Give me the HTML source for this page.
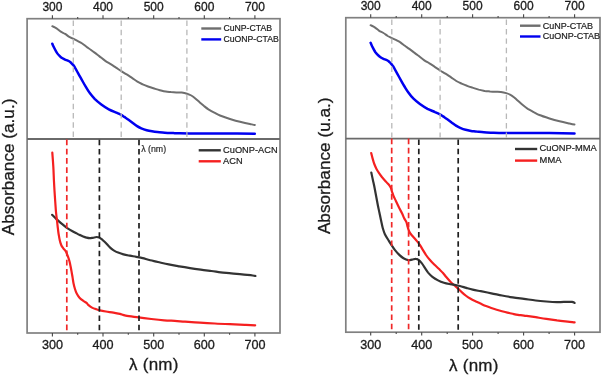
<!DOCTYPE html>
<html><head><meta charset="utf-8"><style>
html,body{margin:0;padding:0;background:#fff;width:602px;height:375px;overflow:hidden}
svg{display:block;will-change:transform}
text{font-family:"Liberation Sans",sans-serif;fill:#1a1a1a;stroke:#1a1a1a;stroke-width:0.3px}
.tl{text-anchor:middle}
.tt{font-size:12px}
.tb{font-size:12.6px}
.lg{font-size:8.5px;fill:#222;stroke:#222;stroke-width:0.2px}
.ax{font-size:17.2px}
.lam{font-size:17px;letter-spacing:0.25px}
</style></head><body>
<svg width="602" height="375" viewBox="0 0 602 375">
<rect x="27.1" y="18.7" width="252.9" height="314.3" fill="none" stroke="#808080" stroke-width="1.7"/>
<line x1="27.1" y1="139" x2="280" y2="139" stroke="#6a6a6a" stroke-width="1.8"/>
<line x1="52.4" y1="18.7" x2="52.4" y2="15.299999999999999" stroke="#444" stroke-width="1.1"/>
<line x1="52.4" y1="333" x2="52.4" y2="336.4" stroke="#444" stroke-width="1.1"/>
<text x="52.4" y="10.9" class="tl tt">300</text>
<text x="52.4" y="348.9" class="tl tb">300</text>
<line x1="77.7" y1="18.7" x2="77.7" y2="16.9" stroke="#444" stroke-width="1.1"/>
<line x1="77.7" y1="333" x2="77.7" y2="334.8" stroke="#444" stroke-width="1.1"/>
<line x1="103.0" y1="18.7" x2="103.0" y2="15.299999999999999" stroke="#444" stroke-width="1.1"/>
<line x1="103.0" y1="333" x2="103.0" y2="336.4" stroke="#444" stroke-width="1.1"/>
<text x="103.0" y="10.9" class="tl tt">400</text>
<text x="103.0" y="348.9" class="tl tb">400</text>
<line x1="128.3" y1="18.7" x2="128.3" y2="16.9" stroke="#444" stroke-width="1.1"/>
<line x1="128.3" y1="333" x2="128.3" y2="334.8" stroke="#444" stroke-width="1.1"/>
<line x1="153.7" y1="18.7" x2="153.7" y2="15.299999999999999" stroke="#444" stroke-width="1.1"/>
<line x1="153.7" y1="333" x2="153.7" y2="336.4" stroke="#444" stroke-width="1.1"/>
<text x="153.7" y="10.9" class="tl tt">500</text>
<text x="153.7" y="348.9" class="tl tb">500</text>
<line x1="179.0" y1="18.7" x2="179.0" y2="16.9" stroke="#444" stroke-width="1.1"/>
<line x1="179.0" y1="333" x2="179.0" y2="334.8" stroke="#444" stroke-width="1.1"/>
<line x1="204.3" y1="18.7" x2="204.3" y2="15.299999999999999" stroke="#444" stroke-width="1.1"/>
<line x1="204.3" y1="333" x2="204.3" y2="336.4" stroke="#444" stroke-width="1.1"/>
<text x="204.3" y="10.9" class="tl tt">600</text>
<text x="204.3" y="348.9" class="tl tb">600</text>
<line x1="229.6" y1="18.7" x2="229.6" y2="16.9" stroke="#444" stroke-width="1.1"/>
<line x1="229.6" y1="333" x2="229.6" y2="334.8" stroke="#444" stroke-width="1.1"/>
<line x1="254.9" y1="18.7" x2="254.9" y2="15.299999999999999" stroke="#444" stroke-width="1.1"/>
<line x1="254.9" y1="333" x2="254.9" y2="336.4" stroke="#444" stroke-width="1.1"/>
<text x="254.9" y="10.9" class="tl tt">700</text>
<text x="254.9" y="348.9" class="tl tb">700</text>
<rect x="345.8" y="17.7" width="254.2" height="314.5" fill="none" stroke="#808080" stroke-width="1.7"/>
<line x1="345.8" y1="138.6" x2="600" y2="138.6" stroke="#6a6a6a" stroke-width="1.8"/>
<line x1="370.7" y1="17.7" x2="370.7" y2="14.299999999999999" stroke="#444" stroke-width="1.1"/>
<line x1="370.7" y1="332.2" x2="370.7" y2="335.59999999999997" stroke="#444" stroke-width="1.1"/>
<text x="370.7" y="10.1" class="tl tt">300</text>
<text x="370.7" y="348.6" class="tl tb">300</text>
<line x1="396.2" y1="17.7" x2="396.2" y2="15.899999999999999" stroke="#444" stroke-width="1.1"/>
<line x1="396.2" y1="332.2" x2="396.2" y2="334.0" stroke="#444" stroke-width="1.1"/>
<line x1="421.7" y1="17.7" x2="421.7" y2="14.299999999999999" stroke="#444" stroke-width="1.1"/>
<line x1="421.7" y1="332.2" x2="421.7" y2="335.59999999999997" stroke="#444" stroke-width="1.1"/>
<text x="421.7" y="10.1" class="tl tt">400</text>
<text x="421.7" y="348.6" class="tl tb">400</text>
<line x1="447.2" y1="17.7" x2="447.2" y2="15.899999999999999" stroke="#444" stroke-width="1.1"/>
<line x1="447.2" y1="332.2" x2="447.2" y2="334.0" stroke="#444" stroke-width="1.1"/>
<line x1="472.6" y1="17.7" x2="472.6" y2="14.299999999999999" stroke="#444" stroke-width="1.1"/>
<line x1="472.6" y1="332.2" x2="472.6" y2="335.59999999999997" stroke="#444" stroke-width="1.1"/>
<text x="472.6" y="10.1" class="tl tt">500</text>
<text x="472.6" y="348.6" class="tl tb">500</text>
<line x1="498.1" y1="17.7" x2="498.1" y2="15.899999999999999" stroke="#444" stroke-width="1.1"/>
<line x1="498.1" y1="332.2" x2="498.1" y2="334.0" stroke="#444" stroke-width="1.1"/>
<line x1="523.6" y1="17.7" x2="523.6" y2="14.299999999999999" stroke="#444" stroke-width="1.1"/>
<line x1="523.6" y1="332.2" x2="523.6" y2="335.59999999999997" stroke="#444" stroke-width="1.1"/>
<text x="523.6" y="10.1" class="tl tt">600</text>
<text x="523.6" y="348.6" class="tl tb">600</text>
<line x1="549.1" y1="17.7" x2="549.1" y2="15.899999999999999" stroke="#444" stroke-width="1.1"/>
<line x1="549.1" y1="332.2" x2="549.1" y2="334.0" stroke="#444" stroke-width="1.1"/>
<line x1="574.6" y1="17.7" x2="574.6" y2="14.299999999999999" stroke="#444" stroke-width="1.1"/>
<line x1="574.6" y1="332.2" x2="574.6" y2="335.59999999999997" stroke="#444" stroke-width="1.1"/>
<text x="574.6" y="10.1" class="tl tt">700</text>
<text x="574.6" y="348.6" class="tl tb">700</text>
<path d="M52.3,26.2 C53.0,26.6 55.1,27.4 56.5,28.3 C57.9,29.2 59.4,30.8 60.8,31.7 C62.2,32.6 63.7,33.0 65.1,33.9 C66.5,34.8 68.0,36.1 69.3,36.9 C70.6,37.7 71.7,38.0 73.1,38.7 C74.5,39.4 76.4,40.3 77.9,41.1 C79.4,41.9 80.8,42.6 82.2,43.5 C83.6,44.4 85.0,45.7 86.4,46.7 C87.8,47.7 89.3,48.7 90.7,49.7 C92.1,50.7 93.6,51.8 95.0,52.9 C96.4,54.0 97.5,54.8 99.2,56.1 C100.9,57.4 103.4,59.6 105.3,60.9 C107.2,62.2 108.9,63.0 110.7,64.1 C112.5,65.2 114.2,66.4 116.0,67.6 C117.8,68.8 119.5,70.1 121.3,71.2 C123.1,72.3 124.9,73.3 126.7,74.4 C128.5,75.5 130.2,76.7 132.0,77.9 C133.8,79.1 135.6,80.6 137.4,81.7 C139.2,82.8 140.9,83.5 142.7,84.3 C144.5,85.1 146.2,85.8 148.0,86.5 C149.8,87.2 151.4,87.7 153.4,88.3 C155.4,88.9 157.8,89.7 159.8,90.2 C161.9,90.7 163.8,91.2 165.7,91.5 C167.6,91.8 169.2,91.9 171.0,92.1 C172.8,92.2 174.5,92.3 176.3,92.4 C178.1,92.5 179.9,92.4 181.7,92.6 C183.5,92.8 185.4,93.2 187.0,93.7 C188.6,94.2 189.9,94.7 191.3,95.5 C192.7,96.3 194.2,97.5 195.6,98.7 C197.0,99.9 198.4,101.2 199.8,102.4 C201.2,103.6 202.7,104.9 204.1,106.1 C205.5,107.2 206.6,108.2 208.4,109.3 C210.2,110.4 212.9,111.9 214.8,112.9 C216.7,113.9 217.5,114.5 220.0,115.5 C222.5,116.5 226.7,118.0 230.0,119.0 C233.3,120.0 236.7,121.0 240.0,121.8 C243.3,122.6 247.4,123.5 249.9,124.0 C252.4,124.5 254.0,124.8 254.8,125.0" fill="none" stroke="#6e6e6e" stroke-width="2.0" stroke-linecap="round" stroke-linejoin="round"/>
<path d="M52.3,43.7 C52.6,44.5 53.6,46.7 54.4,48.3 C55.2,49.9 56.2,51.8 57.1,53.1 C58.0,54.4 59.1,55.4 60.0,56.3 C60.9,57.2 61.7,57.8 62.5,58.3 C63.3,58.8 64.1,59.2 65.0,59.6 C65.9,60.0 66.9,60.3 67.8,60.7 C68.7,61.1 69.5,61.5 70.2,62.0 C70.9,62.5 71.5,63.2 72.1,63.9 C72.7,64.6 73.5,65.3 74.0,66.0 C74.5,66.7 74.6,66.9 75.3,68.1 C76.0,69.2 77.0,71.3 77.9,72.9 C78.8,74.5 79.7,76.1 80.6,77.7 C81.5,79.3 82.4,80.9 83.3,82.5 C84.2,84.1 85.0,85.5 86.0,87.2 C87.0,88.9 88.1,90.8 89.6,92.8 C91.1,94.8 93.0,97.2 94.9,99.2 C96.9,101.2 99.0,102.8 101.3,104.5 C103.6,106.2 106.3,108.0 108.8,109.3 C111.3,110.6 114.2,111.7 116.3,112.6 C118.3,113.5 119.8,114.1 121.1,114.8 C122.4,115.5 123.1,116.1 124.3,116.9 C125.5,117.7 127.1,118.7 128.5,119.7 C129.9,120.7 131.4,121.8 132.8,122.9 C134.2,124.0 135.7,125.2 137.1,126.1 C138.5,127.0 139.7,127.6 141.3,128.3 C142.9,129.0 144.9,129.7 146.7,130.2 C148.5,130.7 150.2,131.0 152.0,131.3 C153.8,131.6 155.3,131.8 157.4,132.0 C159.5,132.2 162.1,132.5 164.8,132.7 C167.5,132.9 170.9,133.0 173.4,133.1 C175.9,133.2 175.4,133.2 179.8,133.3 C184.2,133.4 191.6,133.5 200.0,133.5 C208.4,133.5 220.9,133.4 230.0,133.5 C239.1,133.6 250.7,133.8 254.8,133.8" fill="none" stroke="#0000f0" stroke-width="2.5" stroke-linecap="round" stroke-linejoin="round"/>
<path d="M52.1,214.8 C52.8,215.5 54.9,217.6 56.5,219.1 C58.1,220.6 60.1,222.4 61.9,223.9 C63.7,225.4 65.4,226.9 67.2,228.1 C69.0,229.3 70.7,230.3 72.5,231.3 C74.3,232.3 76.6,233.4 77.9,234.1 C79.2,234.8 79.6,234.8 80.5,235.2 C81.4,235.6 82.2,236.1 83.2,236.5 C84.2,236.9 85.3,237.3 86.4,237.6 C87.5,237.9 88.5,238.2 89.6,238.2 C90.7,238.2 91.6,238.0 92.8,237.8 C94.0,237.6 95.6,237.0 96.7,237.0 C97.8,237.0 98.2,237.1 99.2,237.6 C100.2,238.1 101.3,239.0 102.4,239.8 C103.5,240.7 104.5,241.6 105.6,242.7 C106.7,243.8 107.8,245.2 108.8,246.2 C109.8,247.2 110.6,248.1 111.6,248.9 C112.5,249.7 113.4,250.3 114.5,250.9 C115.6,251.5 116.6,252.0 118.1,252.6 C119.6,253.2 121.5,253.9 123.5,254.4 C125.5,254.9 127.8,255.3 129.9,255.7 C132.0,256.1 134.2,256.4 136.3,256.8 C138.4,257.2 140.4,257.5 142.7,258.1 C145.0,258.7 147.6,259.7 150.2,260.3 C152.8,260.9 154.9,261.3 158.0,262.0 C161.1,262.7 165.1,263.7 168.7,264.4 C172.2,265.1 175.8,265.7 179.3,266.3 C182.9,266.9 186.4,267.5 190.0,268.1 C193.6,268.7 197.1,269.2 200.7,269.7 C204.3,270.2 208.1,270.6 211.4,271.0 C214.7,271.4 217.4,271.9 220.7,272.3 C224.0,272.7 227.8,273.0 231.3,273.4 C234.9,273.8 238.4,274.0 242.0,274.4 C245.6,274.8 250.5,275.2 252.7,275.5 C254.9,275.8 254.9,275.9 255.4,276.0" fill="none" stroke="#333333" stroke-width="2.2" stroke-linecap="round" stroke-linejoin="round"/>
<path d="M52.3,152.7 C52.5,155.0 53.0,161.8 53.3,166.3 C53.6,170.9 53.7,175.9 53.9,180.0 C54.1,184.1 54.3,187.1 54.5,190.7 C54.7,194.2 55.0,197.8 55.2,201.3 C55.5,204.9 55.7,209.1 56.0,212.0 C56.3,214.9 56.5,216.7 56.8,219.0 C57.1,221.3 57.3,223.5 57.6,226.0 C57.9,228.5 58.2,231.7 58.6,234.0 C59.0,236.3 59.3,238.2 59.7,240.0 C60.1,241.8 60.6,243.6 61.2,245.0 C61.8,246.4 62.8,247.6 63.5,248.6 C64.2,249.6 65.0,250.0 65.5,250.8 C66.0,251.6 66.4,252.5 66.8,253.5 C67.2,254.5 67.5,255.2 68.0,256.6 C68.5,258.0 69.1,259.7 69.6,261.7 C70.1,263.7 70.6,266.6 71.0,268.5 C71.4,270.4 71.5,271.5 71.8,273.0 C72.1,274.5 72.3,275.9 72.6,277.6 C72.9,279.3 73.1,281.3 73.5,283.2 C73.9,285.1 74.4,287.1 74.9,288.8 C75.4,290.5 75.9,292.0 76.7,293.5 C77.5,295.0 78.4,296.5 79.5,297.7 C80.6,298.9 82.1,300.0 83.3,300.9 C84.5,301.8 85.7,302.1 86.5,302.8 C87.3,303.5 87.3,304.1 88.2,304.9 C89.1,305.7 90.7,306.9 92.0,307.6 C93.3,308.3 95.0,308.8 96.3,309.2 C97.5,309.6 97.9,309.8 99.5,310.2 C101.1,310.6 103.6,311.1 105.9,311.5 C108.2,311.9 111.1,312.2 113.4,312.6 C115.7,313.0 117.8,313.4 119.8,313.9 C121.8,314.4 122.6,315.0 125.7,315.6 C128.8,316.2 134.2,316.8 138.5,317.4 C142.8,318.0 147.0,318.5 151.3,319.0 C155.6,319.5 160.2,320.0 164.1,320.3 C168.0,320.6 171.3,320.7 174.8,320.9 C178.3,321.1 180.8,321.4 185.0,321.7 C189.2,322.0 194.9,322.4 199.9,322.7 C204.9,323.0 209.8,323.2 214.8,323.5 C219.8,323.8 224.8,324.0 229.8,324.2 C234.8,324.4 240.5,324.6 244.7,324.8 C248.9,325.0 253.4,325.2 255.2,325.3" fill="none" stroke="#f52020" stroke-width="2.2" stroke-linecap="round" stroke-linejoin="round"/>
<path d="M370.6,25.2 C371.3,25.6 373.4,26.4 374.8,27.3 C376.3,28.3 377.7,29.8 379.2,30.8 C380.6,31.7 382.1,32.1 383.5,33.0 C384.9,33.8 386.4,35.2 387.7,36.0 C389.1,36.8 390.1,37.1 391.5,37.8 C393.0,38.5 394.8,39.4 396.4,40.2 C397.9,41.0 399.3,41.7 400.7,42.6 C402.1,43.6 403.5,44.8 404.9,45.8 C406.4,46.9 407.8,47.8 409.3,48.9 C410.7,49.9 412.2,51.0 413.6,52.1 C415.0,53.1 416.1,53.9 417.8,55.3 C419.5,56.6 422.0,58.8 424.0,60.1 C425.9,61.5 427.6,62.2 429.4,63.3 C431.2,64.4 433.0,65.7 434.7,66.8 C436.5,68.0 438.3,69.3 440.1,70.5 C441.9,71.6 443.7,72.6 445.5,73.7 C447.3,74.8 449.0,76.0 450.8,77.2 C452.6,78.4 454.5,79.9 456.3,81.0 C458.1,82.1 459.8,82.8 461.6,83.6 C463.4,84.4 465.2,85.2 467.0,85.8 C468.7,86.5 470.4,87.0 472.4,87.6 C474.4,88.3 476.8,89.0 478.8,89.6 C480.9,90.1 482.9,90.5 484.8,90.9 C486.6,91.2 488.3,91.3 490.1,91.5 C491.9,91.6 493.6,91.7 495.4,91.8 C497.2,91.9 499.1,91.8 500.9,92.0 C502.7,92.2 504.6,92.6 506.2,93.1 C507.8,93.6 509.1,94.0 510.5,94.9 C512.0,95.7 513.4,96.9 514.9,98.1 C516.3,99.3 517.7,100.6 519.1,101.8 C520.5,103.1 522.0,104.4 523.4,105.5 C524.9,106.7 526.0,107.6 527.8,108.8 C529.6,109.9 532.3,111.3 534.2,112.4 C536.2,113.4 536.9,114.0 539.4,115.0 C542.0,116.0 546.2,117.4 549.5,118.5 C552.9,119.6 556.2,120.5 559.6,121.3 C562.9,122.2 567.1,123.0 569.5,123.5 C572.0,124.1 573.7,124.4 574.5,124.5" fill="none" stroke="#6e6e6e" stroke-width="2.0" stroke-linecap="round" stroke-linejoin="round"/>
<path d="M370.6,42.8 C371.0,43.6 371.9,45.9 372.7,47.4 C373.5,49.0 374.5,50.9 375.4,52.3 C376.4,53.6 377.4,54.6 378.4,55.5 C379.3,56.4 380.0,56.9 380.9,57.5 C381.7,58.1 382.5,58.4 383.4,58.8 C384.3,59.2 385.3,59.5 386.2,59.9 C387.1,60.3 387.9,60.7 388.6,61.2 C389.3,61.8 389.9,62.5 390.5,63.1 C391.2,63.8 391.9,64.5 392.4,65.2 C393.0,65.9 393.1,66.2 393.8,67.3 C394.4,68.5 395.5,70.6 396.4,72.2 C397.3,73.8 398.2,75.4 399.1,77.0 C400.0,78.6 400.9,80.2 401.8,81.8 C402.7,83.4 403.5,84.8 404.5,86.5 C405.6,88.3 406.7,90.2 408.2,92.2 C409.6,94.2 411.5,96.6 413.5,98.6 C415.5,100.6 417.6,102.2 419.9,103.9 C422.3,105.6 425.0,107.4 427.5,108.8 C430.0,110.1 433.0,111.1 435.0,112.1 C437.1,113.0 438.5,113.6 439.9,114.3 C441.2,115.0 441.8,115.6 443.1,116.4 C444.3,117.2 445.9,118.2 447.3,119.2 C448.7,120.2 450.2,121.3 451.6,122.4 C453.1,123.5 454.5,124.7 456.0,125.6 C457.4,126.5 458.6,127.2 460.2,127.8 C461.8,128.5 463.8,129.3 465.6,129.8 C467.4,130.3 469.2,130.6 471.0,130.9 C472.8,131.2 474.3,131.3 476.4,131.6 C478.6,131.8 481.2,132.1 483.9,132.3 C486.5,132.5 490.0,132.6 492.5,132.7 C495.0,132.8 494.5,132.8 499.0,132.9 C503.4,132.9 510.9,133.0 519.3,133.1 C527.7,133.1 540.3,133.0 549.5,133.1 C558.7,133.1 570.3,133.3 574.5,133.4" fill="none" stroke="#0000f0" stroke-width="2.5" stroke-linecap="round" stroke-linejoin="round"/>
<path d="M371.2,153.1 C371.4,153.9 372.0,156.3 372.5,158.1 C373.0,159.9 373.6,162.2 374.3,164.0 C375.0,165.8 375.7,167.4 376.5,168.9 C377.3,170.4 378.0,171.5 378.9,172.9 C379.8,174.3 380.9,175.8 382.1,177.3 C383.4,178.8 385.2,180.7 386.4,182.1 C387.6,183.5 388.7,184.6 389.5,185.6 C390.3,186.6 390.6,187.1 391.0,188.2 C391.4,189.3 391.7,190.8 392.1,192.0 C392.5,193.2 392.8,194.2 393.4,195.7 C394.0,197.2 395.0,199.1 395.9,201.0 C396.8,202.9 398.0,205.3 399.0,207.4 C400.0,209.5 401.1,211.5 402.0,213.3 C402.9,215.1 403.5,216.8 404.2,218.3 C404.9,219.8 405.8,220.7 406.4,222.1 C407.0,223.5 407.1,225.0 407.6,226.7 C408.1,228.4 408.6,230.5 409.5,232.1 C410.4,233.7 411.6,235.0 412.7,236.3 C413.8,237.6 414.7,238.5 415.8,239.8 C416.9,241.1 418.4,242.7 419.5,244.3 C420.6,245.9 421.6,247.8 422.7,249.6 C423.8,251.4 424.8,253.2 426.0,255.0 C427.2,256.8 428.8,258.7 430.2,260.3 C431.6,261.9 433.1,263.4 434.5,264.8 C435.9,266.2 437.4,267.4 438.8,268.8 C440.2,270.2 441.7,271.6 443.0,273.0 C444.3,274.4 445.1,275.7 446.5,277.3 C447.9,278.9 449.8,281.3 451.3,282.8 C452.8,284.3 454.2,285.2 455.5,286.3 C456.8,287.4 457.7,288.3 458.8,289.3 C459.9,290.3 460.8,291.3 462.0,292.4 C463.2,293.5 464.9,294.9 466.3,296.0 C467.7,297.1 469.0,297.9 470.6,298.8 C472.2,299.7 474.2,300.6 475.9,301.4 C477.6,302.2 479.3,303.0 481.0,303.8 C482.7,304.6 484.3,305.4 486.0,306.1 C487.7,306.8 489.5,307.4 491.3,308.0 C493.1,308.6 494.9,309.2 496.7,309.7 C498.5,310.2 500.2,310.7 502.0,311.2 C503.8,311.7 505.6,312.2 507.4,312.6 C509.2,313.0 510.9,313.4 512.7,313.8 C514.5,314.2 516.1,314.6 518.0,314.9 C519.9,315.2 521.0,315.2 524.0,315.6 C527.0,316.0 532.0,316.6 535.7,317.2 C539.4,317.8 542.8,318.4 546.3,318.9 C549.8,319.4 553.4,319.9 557.0,320.4 C560.6,320.8 564.8,321.3 567.7,321.6 C570.6,321.9 573.5,322.3 574.6,322.4" fill="none" stroke="#f52020" stroke-width="2.2" stroke-linecap="round" stroke-linejoin="round"/>
<path d="M371.3,172.5 C371.6,173.9 372.5,178.3 373.1,181.0 C373.7,183.7 374.2,185.8 374.7,188.5 C375.2,191.2 375.8,194.3 376.3,197.0 C376.8,199.7 377.2,201.8 377.7,204.5 C378.2,207.2 378.9,210.1 379.5,213.0 C380.1,215.9 380.8,219.5 381.4,222.0 C381.9,224.5 382.2,226.2 382.8,228.2 C383.4,230.2 383.9,232.1 384.9,234.2 C385.9,236.3 387.4,238.6 388.7,240.6 C389.9,242.6 391.3,244.7 392.4,246.3 C393.4,247.9 393.9,248.7 395.0,250.1 C396.1,251.5 397.9,253.5 399.3,254.9 C400.7,256.3 402.0,257.4 403.5,258.3 C405.0,259.2 406.9,260.0 408.3,260.2 C409.7,260.4 410.9,259.8 412.1,259.6 C413.4,259.4 414.7,258.8 415.8,258.9 C416.9,258.9 417.5,259.2 418.5,259.9 C419.5,260.6 420.6,261.8 421.7,263.1 C422.8,264.4 423.8,266.3 424.9,267.9 C426.0,269.5 426.9,271.1 428.1,272.6 C429.4,274.1 430.7,275.5 432.4,276.8 C434.1,278.1 436.6,279.6 438.5,280.6 C440.4,281.6 442.1,282.2 443.9,282.8 C445.7,283.4 447.4,283.7 449.2,284.0 C451.0,284.3 452.7,284.5 454.5,284.8 C456.3,285.1 457.9,285.5 459.9,286.0 C461.9,286.5 464.2,287.3 466.3,287.9 C468.4,288.5 470.3,289.1 472.7,289.6 C475.1,290.2 477.6,290.6 480.7,291.2 C483.8,291.8 487.8,292.6 491.3,293.3 C494.9,294.0 498.4,294.8 502.0,295.5 C505.6,296.2 509.0,296.8 512.7,297.4 C516.4,298.0 520.2,298.4 524.0,298.9 C527.8,299.4 532.0,300.1 535.7,300.5 C539.4,300.9 542.8,301.2 546.3,301.5 C549.8,301.8 553.4,302.1 557.0,302.1 C560.6,302.2 565.2,301.8 567.7,301.8 C570.2,301.8 570.9,301.7 572.0,301.9 C573.1,302.1 574.2,302.7 574.6,302.9" fill="none" stroke="#333333" stroke-width="2.2" stroke-linecap="round" stroke-linejoin="round"/>
<line x1="73.3" y1="20.6" x2="73.3" y2="138" stroke="#b8b8b8" stroke-width="1.3" stroke-dasharray="5.4,3.85"/>
<line x1="121.2" y1="20.6" x2="121.2" y2="138" stroke="#b8b8b8" stroke-width="1.3" stroke-dasharray="5.4,3.85"/>
<line x1="186.9" y1="20.6" x2="186.9" y2="138" stroke="#b8b8b8" stroke-width="1.3" stroke-dasharray="5.4,3.85"/>
<line x1="391.8" y1="19.6" x2="391.8" y2="137.6" stroke="#b8b8b8" stroke-width="1.3" stroke-dasharray="5.4,4.0"/>
<line x1="440.1" y1="19.6" x2="440.1" y2="137.6" stroke="#b8b8b8" stroke-width="1.3" stroke-dasharray="5.4,4.0"/>
<line x1="506.4" y1="19.6" x2="506.4" y2="137.6" stroke="#b8b8b8" stroke-width="1.3" stroke-dasharray="5.4,4.0"/>
<line x1="66.8" y1="139.4" x2="66.8" y2="330.4" stroke="#f02828" stroke-width="1.7" stroke-dasharray="5.8,3.45"/>
<line x1="99.4" y1="139.65" x2="99.4" y2="330.4" stroke="#1e1e1e" stroke-width="1.7" stroke-dasharray="5.6,3.65"/>
<line x1="139.0" y1="139.65" x2="139.0" y2="330.4" stroke="#1e1e1e" stroke-width="1.7" stroke-dasharray="5.6,3.65"/>
<line x1="391.7" y1="138.55" x2="391.7" y2="330.0" stroke="#f02828" stroke-width="1.7" stroke-dasharray="5.6,3.66"/>
<line x1="408.6" y1="138.55" x2="408.6" y2="330.0" stroke="#f02828" stroke-width="1.7" stroke-dasharray="5.6,3.66"/>
<line x1="418.8" y1="139.6" x2="418.8" y2="330.0" stroke="#1e1e1e" stroke-width="1.7" stroke-dasharray="5.5,3.735"/>
<line x1="458.2" y1="139.6" x2="458.2" y2="330.0" stroke="#1e1e1e" stroke-width="1.7" stroke-dasharray="5.5,3.735"/>
<line x1="201.3" y1="28.5" x2="221.2" y2="28.5" stroke="#6e6e6e" stroke-width="2.4"/>
<text x="223.4" y="31.2" class="lg" style="font-size:8.7px">CuNP-CTAB</text>
<line x1="201.3" y1="39.4" x2="221.2" y2="39.4" stroke="#0000f0" stroke-width="2.4"/>
<text x="223.4" y="42.1" class="lg" style="font-size:8.7px">CuONP-CTAB</text>
<line x1="520" y1="25.7" x2="540.5" y2="25.7" stroke="#6e6e6e" stroke-width="2.4"/>
<text x="542.7" y="28.5" class="lg" style="font-size:9.0px">CuNP-CTAB</text>
<line x1="520" y1="36.5" x2="540.5" y2="36.5" stroke="#0000f0" stroke-width="2.4"/>
<text x="542.7" y="39.3" class="lg" style="font-size:9.0px">CuONP-CTAB</text>
<line x1="198.7" y1="150.3" x2="220.8" y2="150.3" stroke="#333333" stroke-width="2.4"/>
<text x="223.1" y="152.60000000000002" class="lg" style="font-size:9.25px">CuONP-ACN</text>
<line x1="198.7" y1="161.3" x2="220.8" y2="161.3" stroke="#f52020" stroke-width="2.4"/>
<text x="223.1" y="163.60000000000002" class="lg" style="font-size:9.25px">ACN</text>
<line x1="515" y1="149" x2="537.2" y2="149" stroke="#333333" stroke-width="2.4"/>
<text x="539.6" y="151.3" class="lg" style="font-size:9.35px">CuONP-MMA</text>
<line x1="515" y1="160.6" x2="537.2" y2="160.6" stroke="#f52020" stroke-width="2.4"/>
<text x="539.6" y="162.9" class="lg" style="font-size:9.35px">MMA</text>
<text x="141.2" y="152.2" class="lg" style="font-size:8.8px;fill:#333">λ (nm)</text>
<text x="129" y="370" class="lam">λ (nm)</text>
<text x="449" y="370.6" class="lam">λ (nm)</text>
<text transform="translate(14.4,235.2) rotate(-90)" class="ax" x="0" y="0">Absorbance (a.u.)</text>
<text transform="translate(329.7,234.1) rotate(-90)" class="ax" x="0" y="0">Absorbance (u.a.)</text>
</svg>
</body></html>
